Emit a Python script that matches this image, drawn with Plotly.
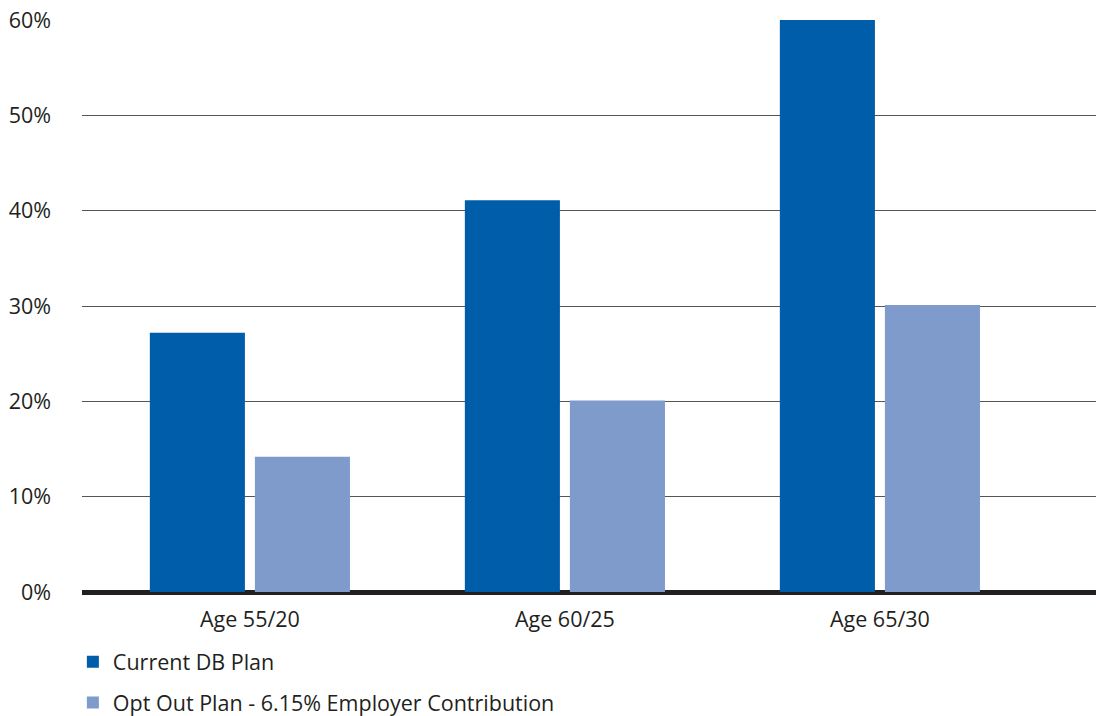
import plotly.graph_objects as go

categories = ["Age 55/20", "Age 60/25", "Age 65/30"]
current_db = [27.2, 41.1, 60.0]
opt_out = [14.2, 20.1, 30.1]
series_names = ["Current DB Plan", "Opt Out Plan - 6.15% Employer Contribution"]
y_ticks = [0, 10, 20, 30, 40, 50, 60]
y_tick_labels = ["0%", "10%", "20%", "30%", "40%", "50%", "60%"]

FONT = "Open Sans"
TXT = "#231f20"
FS = 21.5

fig = go.Figure()
fig.add_trace(go.Bar(x=categories, y=current_db, name=series_names[0],
                     marker=dict(color="#005daa", line=dict(width=0)),
                     legendgroup="a"))
fig.add_trace(go.Bar(x=categories, y=opt_out, name=series_names[1],
                     marker=dict(color="#7f9bcc", line=dict(width=0)),
                     legendgroup="b"))

fig.update_layout(
    width=1096, height=716,
    margin=dict(l=82, r=0, t=20, b=124, autoexpand=False),
    paper_bgcolor="white", plot_bgcolor="white",
    font=dict(family=FONT, size=FS, color=TXT),
    barmode="group", bargap=0.333, bargroupgap=0.095,
    showlegend=True,
    legend=dict(orientation="v", x=-0.009, xanchor="left", y=-0.086, yanchor="top",
                traceorder="grouped", tracegroupgap=10,
                font=dict(family=FONT, size=FS, color=TXT),
                itemwidth=30, bgcolor="rgba(0,0,0,0)"),
    xaxis=dict(range=[-0.533, 2.686], showgrid=False, showline=False,
               ticks="", ticklabelstandoff=12, automargin=False,
               tickfont=dict(size=FS, color=TXT), fixedrange=True),
    yaxis=dict(range=[0, 60], tickvals=y_ticks, ticktext=y_tick_labels,
               showgrid=True, gridcolor="#555555", gridwidth=1,
               zeroline=True, zerolinecolor=TXT, zerolinewidth=5,
               showline=False, ticks="", ticklabelstandoff=30, automargin=False,
               tickfont=dict(size=FS, color=TXT), fixedrange=True),
)

fig.write_html("out.html", config={"displayModeBar": False},
               post_script="document.body.style.margin='0';document.body.style.overflow='hidden';")
